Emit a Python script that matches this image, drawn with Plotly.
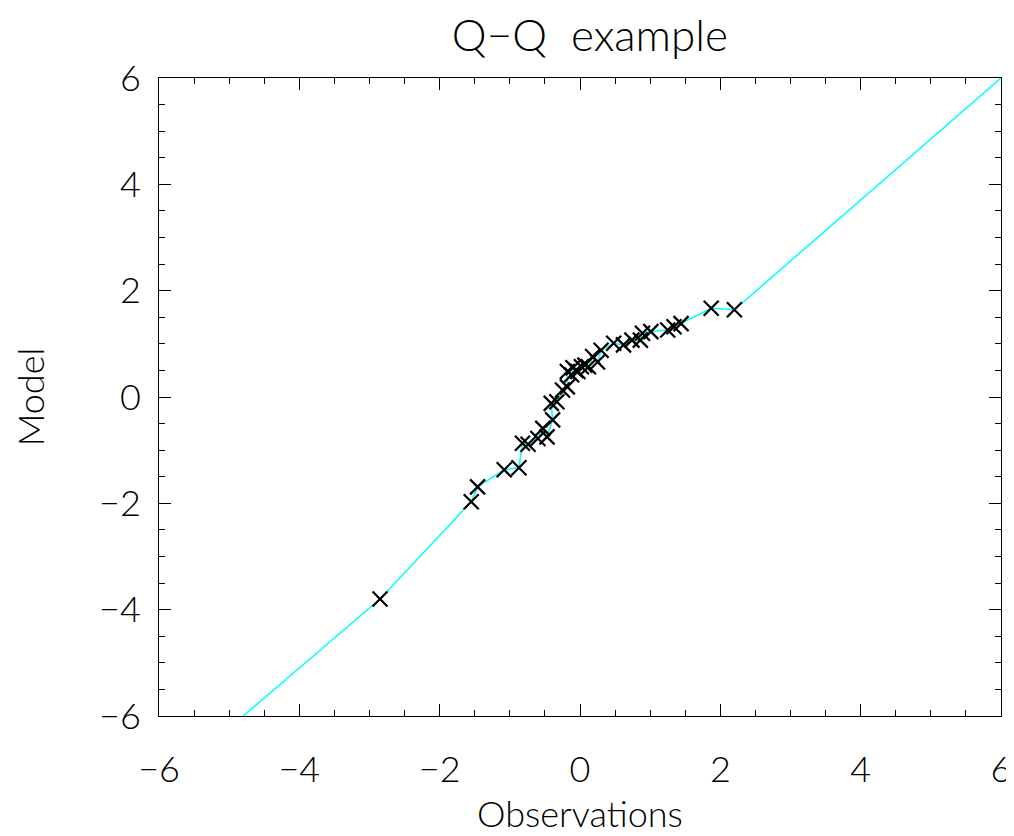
import plotly.graph_objects as go

obs = [-2.85, -1.55, -1.46, -1.08, -0.87, -0.82, -0.74, -0.60, -0.53, -0.47, -0.39, -0.41, -0.33,
       -0.25, -0.18, -0.18, -0.12, -0.10, -0.06, -0.03, 0.02, 0.07, 0.12, 0.18, 0.25, 0.30,
       0.48, 0.62, 0.74, 0.86, 0.89, 1.01, 1.25, 1.34, 1.44, 1.87, 2.20]
model = [-3.80, -1.97, -1.69, -1.37, -1.33, -0.87, -0.89, -0.78, -0.59, -0.75, -0.43, -0.12, -0.09,
         0.13, 0.19, 0.48, 0.42, 0.55, 0.50, 0.48, 0.57, 0.60, 0.57, 0.76, 0.66, 0.88,
         1.01, 0.98, 1.07, 1.07, 1.20, 1.23, 1.26, 1.32, 1.38, 1.67, 1.64]
line_x = [-4.80] + obs + [6.0]
line_y = [-6.0] + model + [6.0]

FONT = "Lato"
fig = go.Figure()
fig.add_trace(go.Scatter(x=line_x, y=line_y, mode="lines", line=dict(color="#00ffff", width=1.5), hoverinfo="skip"))
fig.add_trace(go.Scatter(x=obs, y=model, mode="markers",
                         marker=dict(symbol="x-thin", size=15, line=dict(color="black", width=2.2))))
ax = dict(range=[-6, 6], dtick=2, ticks="inside", ticklen=12, showgrid=False, zeroline=False,
          showline=True, linecolor="black", linewidth=1, mirror="ticks", automargin=False,
          minor=dict(dtick=0.5, ticks="inside", ticklen=6, tickcolor="black"),
          tickfont=dict(size=36, color="black", family=FONT, weight=300), tickcolor="black")
fig.update_layout(
    width=1012, height=828, showlegend=False, plot_bgcolor="white", paper_bgcolor="white",
    margin=dict(l=151, r=19, t=70, b=120),
    title=dict(text="Q\u2212Q  example", x=0.575, xanchor="center", y=0.985, yanchor="top",
               font=dict(size=44, color="black", family=FONT, weight=300)),
    xaxis=dict(ax, ticklabelstandoff=22,
               title=dict(text="Observations", font=dict(size=36, color="black", family=FONT, weight=300), standoff=12)),
    yaxis=dict(ax, ticklabelstandoff=10,
               title=dict(text="Model", font=dict(size=36, color="black", family=FONT, weight=300), standoff=48)),
)
fig.write_html("out.html")
